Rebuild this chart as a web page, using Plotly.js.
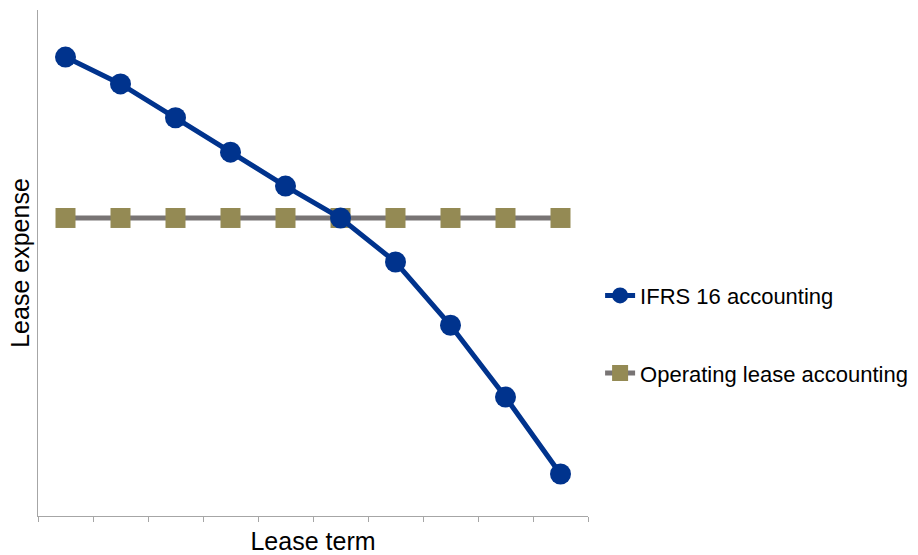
<!DOCTYPE html>
<html>
<head>
<meta charset="utf-8">
<script src="https://cdn.plot.ly/plotly-3.0.1.min.js"></script>
<style>html,body{margin:0;padding:0;background:#fff;}#chart{width:918px;height:555px;}</style>
</head>
<body>
<div id="chart"></div>
<script>
const periods = ["1","2","3","4","5","6","7","8","9","10"];
const ifrs16 = [90.7, 85.4, 78.7, 71.9, 65.2, 58.9, 50.2, 37.7, 23.5, 8.3];
const operating = [58.9, 58.9, 58.9, 58.9, 58.9, 58.9, 58.9, 58.9, 58.9, 58.9];
const seriesNames = ["IFRS 16 accounting", "Operating lease accounting"];

const traces = [
  {
    x: periods, y: operating, name: seriesNames[1], type: "scatter", mode: "lines+markers",
    line: {color: "#787474", width: 5},
    marker: {symbol: "square", size: 20, color: "#948A54"},
    legendgroup: "b", legendrank: 2
  },
  {
    x: periods, y: ifrs16, name: seriesNames[0], type: "scatter", mode: "lines+markers",
    line: {color: "#00338D", width: 5},
    marker: {symbol: "circle", size: 21, color: "#00338D"},
    legendgroup: "a", legendrank: 1
  }
];

const layout = {
  width: 918, height: 555,
  margin: {l: 38, r: 330, t: 10, b: 39, autoexpand: false},
  paper_bgcolor: "#fff", plot_bgcolor: "#fff",
  font: {family: "Liberation Sans, Arial, sans-serif", color: "#000"},
  showlegend: true,
  legend: {
    x: 1.022, y: 0.477, xanchor: "left", yanchor: "top",
    font: {size: 22, color: "#000"},
    traceorder: "grouped", tracegroupgap: 46,
    itemwidth: 30, bgcolor: "rgba(0,0,0,0)"
  },
  xaxis: {
    type: "category", range: [-0.5, 9.5],
    showline: true, linecolor: "#A6A6A6", linewidth: 1,
    ticks: "outside", ticklen: 5, tickcolor: "#A6A6A6", tickson: "boundaries",
    showticklabels: false, showgrid: false, zeroline: false,
    title: {text: "Lease term", font: {size: 25}, standoff: 24}
  },
  yaxis: {
    range: [0, 100],
    showline: true, linecolor: "#A6A6A6", linewidth: 1,
    ticks: "", showticklabels: false, showgrid: false, zeroline: false,
    title: {text: "Lease expense", font: {size: 25}, standoff: 0}
  }
};

Plotly.newPlot("chart", traces, layout, {displayModeBar: false, staticPlot: true});
</script>
</body>
</html>
